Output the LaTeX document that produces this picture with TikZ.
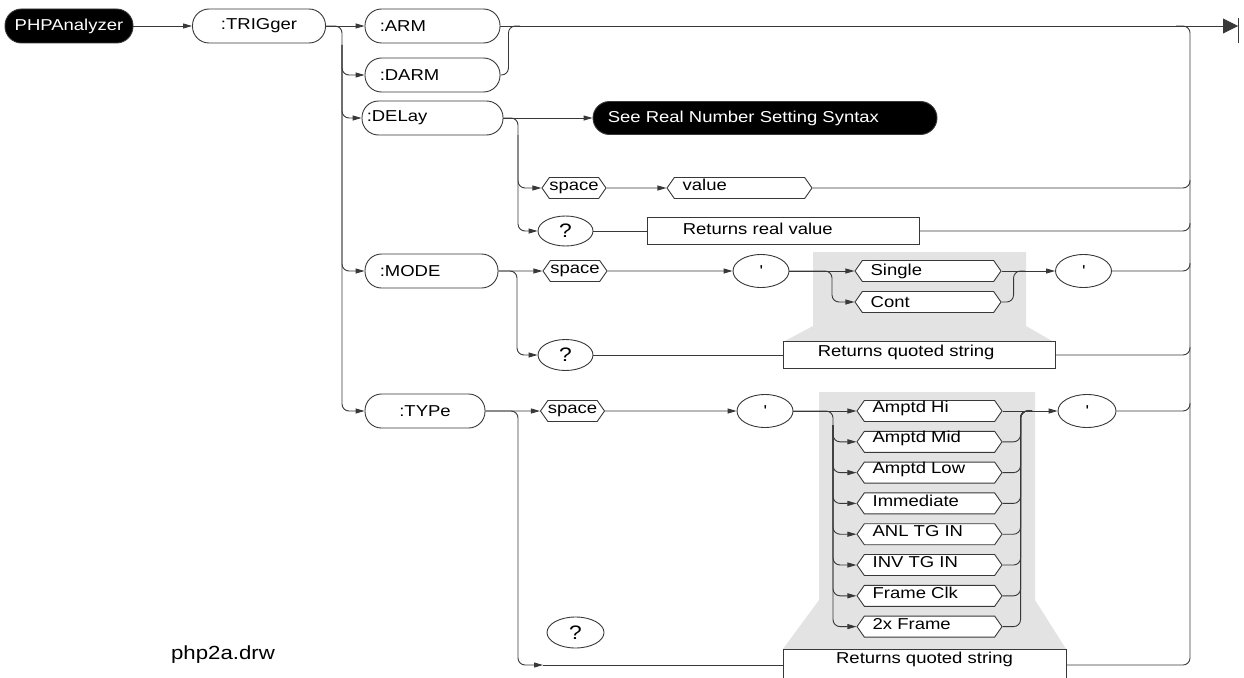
\documentclass[tikz,border=0pt]{standalone}
\usepackage{fontspec}
\setmainfont{Liberation Sans}[FakeStretch=1.17]
\usetikzlibrary{arrows.meta,shapes.geometric,shapes.symbols,calc}
\begin{document}
\begin{tikzpicture}[x=1pt,y=-1pt,
  font=\fontsize{15.8pt}{18pt}\selectfont,
  ink/.style={draw=black!78, line width=0.9pt},
  wire/.style={ink, rounded corners=7pt},
  arr/.style={wire, -{Triangle[length=9pt,width=5pt]}},
  pill/.style={ink, fill=white, rectangle, rounded corners=16.5pt, minimum height=34pt, inner sep=0pt},
  blackpill/.style={pill, fill=black, text=white},
  hexa/.style={ink, fill=white, shape=signal, signal to=west and east, signal pointer angle=110, minimum height=21pt, inner sep=0pt},
  oval/.style={ink, fill=white, ellipse, minimum width=56pt, minimum height=33pt, inner sep=0pt},
  query/.style={oval, font=\fontsize{19.5pt}{22pt}\selectfont},
  retbox/.style={ink, fill=white, rectangle, minimum height=27pt, inner sep=0pt},
  lt/.style={anchor=west, inner sep=0pt, xshift=#1},
  shade/.style={fill=black!11, draw=none},
]
\useasboundingbox (0,0) rectangle (1244,677);
\clip (0,0) rectangle (1244,677);

% stippled call-out areas behind the enumerated choices
\fill[shade] (813,252) -- (1026,252) -- (1026,326) -- (1054,342) -- (783,342) -- (813,326) -- cycle;
\fill[shade] (819,392) -- (1035,392) -- (1035,600) -- (1066,649) -- (783,649) -- (819,600) -- cycle;

% command tree
\node[blackpill, minimum width=128pt] (php) at (69,26) {PHPAnalyzer};
\node[pill, minimum width=133pt] (trig) at (259,26) {:TRIGger};
\node[pill, minimum width=135pt, label={[lt=15pt]west:{:ARM}}] (arm) at (432.5,26) {};
\node[pill, minimum width=135pt, label={[lt=15pt]west:{:DARM}}] (darm) at (432.5,75) {};
\node[pill, minimum width=141pt, label={[lt=5pt]west:{:DELay}}] (del) at (432.5,118) {};
\node[pill, minimum width=133pt, label={[lt=15pt]west:{:MODE}}] (mode) at (431.5,271) {};
\node[pill, minimum width=120pt] (typ) at (425,411) {:TYPe};

% :DELay branch
\node[blackpill, minimum width=344pt, minimum height=33pt, label={[lt=15pt,text=white]west:See Real Number Setting Syntax}] (see) at (765,118) {};
\node[hexa, minimum width=62pt] (dsp) at (574,188) {space};
\node[hexa, minimum width=145pt, label={[lt=16pt,yshift=3pt]west:value}] (val) at (739.5,188) {};
\node[query, minimum width=55pt, minimum height=30pt] (dq) at (565.5,231) {?};
\node[retbox, minimum width=272pt, label={[lt=36pt,yshift=2pt]west:Returns real value}] (dbox) at (783,231) {};

% :MODE branch
\node[hexa, minimum width=64pt] (msp) at (575,271) {space};
\node[oval] (mq1) at (761,271) {\textquotesingle};
\node[hexa, minimum width=146pt, label={[lt=16pt]west:Single}] (msi) at (928,271) {};
\node[hexa, minimum width=146pt, label={[lt=16pt]west:Cont}] (mco) at (928,302) {};
\node[oval] (mq2) at (1083.5,271) {\textquotesingle};
\node[query, minimum width=55pt, minimum height=31pt] (mqq) at (565.5,355) {?};
\node[retbox, minimum width=272pt, label={[lt=35pt,yshift=3pt]west:Returns quoted string}] (mbox) at (919,355) {};

% :TYPe branch
\node[hexa, minimum width=61pt] (tsp) at (572.5,411) {space};
\node[oval] (tq1) at (765,411) {\textquotesingle};
\foreach \i/\t in {1/Amptd Hi,2/Amptd Mid,3/Amptd Low,4/Immediate,5/ANL TG IN,6/INV TG IN,7/Frame Clk,8/2x Frame}
  \node[hexa, minimum width=145pt, label={[lt=16pt,yshift=3pt]west:\t}] (t\i) at (929.5,{411+30.8*(\i-1)}) {};
\node[oval, minimum width=58pt] (tq2) at (1087,411) {\textquotesingle};
\node[query, minimum width=57pt, minimum height=31pt] (tqq) at (575.5,632.5) {?};
\node[retbox, minimum width=283pt, minimum height=32pt, label={[anchor=north, inner sep=0pt, yshift=-3pt]north:Returns quoted string}] (tbox) at (924.5,665) {};

\node[font=\fontsize{19pt}{22pt}\selectfont] (tag) at (223,655) {php2a.drw};

% junctions
\coordinate (j1) at (342,26);
\coordinate (j1b) at (342,45);
\coordinate (fin) at (1238,26);
\coordinate (dj) at (520,26);
\coordinate (rtop) at (1190,26);
\coordinate (rleft) at (1176,26);
\coordinate (dj2) at (518,118);
\coordinate (dj2b) at (518,135);
\coordinate (mj) at (517,271);
\coordinate (mj2) at (832,271);
\coordinate (mj3) at (1025,271);
\coordinate (tj0) at (518,411);
\coordinate (tarr) at (543,665);
\coordinate (tj) at (833,411);
\coordinate (tjb) at (833,425);
\coordinate (tj3) at (1032,411);

% main spine
\draw[arr] (php) -- (trig);
\draw[arr] (trig) -- (arm);
\draw[arr] (trig.east) -- (j1) |- (typ.west);
\foreach \n in {darm,del,mode} \draw[arr] (j1b) |- (\n.west);
\draw[wire, -{Triangle[length=15pt,width=15pt]}] (arm.east) -- (fin);
\draw[ink] ($(fin)+(0,-8)$) -- ($(fin)+(0,17)$);
\draw[wire] (darm.east) -- ++(8,0) |- (dj);

% return rail on the right
\draw[wire] (tbox.east) -| (rtop) -- (rleft);
\foreach \n in {val,dbox,mq2,mbox,tq2}
  \draw[wire] (\n.east) -| ($(\n.east -| rtop)+(0,-8)$);

% :DELay paths
\draw[arr] (del) -- (see);
\draw[arr] (del.east) -- (dj2) |- (dq.west);
\draw[arr] (dj2b) |- (dsp.west);
\draw[arr] (dsp) -- (val);
\draw[wire] (dq) -- (dbox);

% :MODE paths
\draw[arr] (mode) -- (msp);
\draw[arr] (msp) -- (mq1);
\draw[arr] (mode.east) -- (mj) |- (mqq.west);
\draw[arr] (mq1) -- (msi);
\draw[arr] (mq1.east) -- (mj2) |- (mco.west);
\draw[arr] (msi) -- (mq2);
\draw[wire] (mco.east) -- ++(12,0) |- (mj3);
\draw[wire] (mqq) -- (mbox);

% :TYPe paths
\draw[arr] (typ) -- (tsp);
\draw[arr] (tsp) -- (tq1);
\draw[arr] (typ.east) -- (tj0) |- (tarr);
\draw[wire] (tarr) -- (tbox.west);
\draw[arr] (tq1) -- (t1);
\draw[arr] (tq1.east) -- (tj) |- (t8.west);
\foreach \i in {2,...,7} \draw[arr] (tjb) |- (t\i.west);
\draw[arr] (t1) -- (tq2);
\foreach \i in {2,...,8} \draw[wire] (t\i.east) -- ++(18,0) |- (tj3);
\end{tikzpicture}
\end{document}
